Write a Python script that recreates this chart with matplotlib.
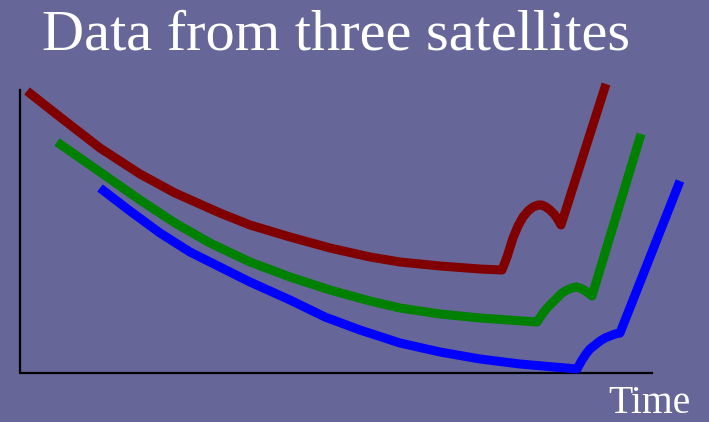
import matplotlib
matplotlib.use("Agg")
import matplotlib.pyplot as plt

# Colours
bg_color = '#666699'

# Curve points (x, y in pixel units, y grows downward)
red_x = [27, 60, 100, 140, 175, 220, 250, 290, 330, 370, 400, 440, 480, 502,
         507, 513, 518, 523, 528, 533, 538, 542, 546, 550, 554, 557, 561, 606]
red_y = [91, 117, 148, 174, 193, 213, 225, 237, 248, 257, 262, 266, 269, 270,
         257, 238, 226, 217, 211, 207, 205, 205, 207, 210, 214, 218, 225, 84]

green_x = [57, 100, 140, 175, 210, 250, 290, 330, 370, 400, 440, 480, 537,
           543, 548, 552, 557, 562, 567, 572, 576, 580, 584, 587, 592, 641]
green_y = [142, 172, 200, 223, 243, 262, 277, 290, 301, 308, 314, 318, 322,
           313, 307, 303, 298, 293, 290, 288, 287, 288, 290, 292, 296, 134]

blue_x = [100, 130, 160, 190, 220, 250, 290, 325, 360, 400, 440, 480, 520, 577,
          582, 586, 590, 595, 600, 605, 610, 615, 620, 680]
blue_y = [188, 211, 233, 252, 267, 282, 300, 317, 330, 343, 352, 359, 364, 369,
          360, 354, 349, 345, 341, 338, 336, 334, 333, 181]

# Axis frame (vertical and horizontal)
frame_x = [20, 20, 652]
frame_y = [90, 373, 373]

title_text = 'Data from three satellites'
xlabel_text = 'Time'

fig = plt.figure(figsize=(7.09, 4.22), dpi=100)
fig.patch.set_facecolor(bg_color)
ax = fig.add_axes([0, 0, 1, 1])
ax.set_facecolor(bg_color)
ax.set_xlim(0, 709)
ax.set_ylim(422, 0)
ax.axis('off')

ax.plot(frame_x, frame_y, color='black', linewidth=1.6, solid_joinstyle='miter')

for xs, ys, col in [(red_x, red_y, '#800000'),
                    (green_x, green_y, '#008000'),
                    (blue_x, blue_y, '#0000ff')]:
    ax.plot(xs, ys, color=col, linewidth=6.5,
            solid_joinstyle='round', solid_capstyle='butt')

ax.text(42, 50, title_text, color='white', fontsize=42,
        family='Liberation Serif', va='baseline', ha='left')
ax.text(608, 413, xlabel_text, color='white', fontsize=28.5,
        family='Liberation Serif', va='baseline', ha='left')

fig.savefig('out.png', dpi=100, facecolor=bg_color)
